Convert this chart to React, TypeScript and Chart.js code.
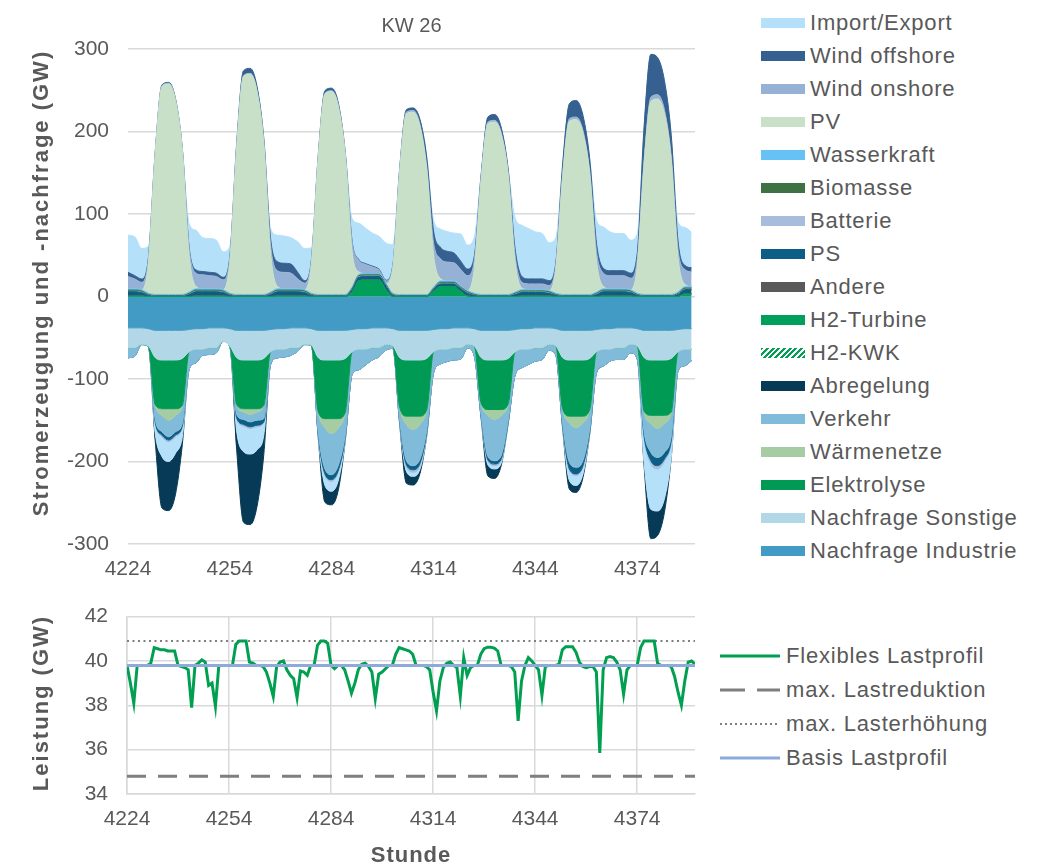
import React, { useEffect, useRef } from "react";
import { Chart, registerables } from "chart.js";
Chart.register(...registerables);

const FONT = '"Liberation Sans", Arial, Helvetica, sans-serif';
const TEXT = "#595959";
const GRID = "#d9d9d9";

const X_MIN = 4224;
const X_MAX = 4391;
const xTicks = [4224, 4254, 4284, 4314, 4344, 4374];
const yTicksTop = [-300, -200, -100, 0, 100, 200, 300];
const yTicksBottom = [34, 36, 38, 40, 42];

// top chart: one sample every 2 hours (h0, h2, ... h22 per day, 7 days)
const topHours = Array.from({ length: 84 }, (_, i) => X_MIN + 2 * i);

// ---- generation (positive stack, from zero upward) ----
const h2Turbine = [
  0.5, 0.5, 0.5, 0, 0, 0, 0, 0, 0, 0, 0.5, 0.5,
  0.5, 0.5, 0.5, 0, 0, 0, 0, 0, 0, 0, 0.5, 0.5,
  0.5, 0.5, 0.5, 0, 0, 0, 0, 0, 0, 5, 19, 20,
  20, 20, 8, 0, 0, 0, 0, 0, 0, 6, 12, 12,
  12, 6, 0.5, 0, 0, 0, 0, 0, 0, 0, 0.5, 0.5,
  0.5, 0.5, 0.5, 0, 0, 0, 0, 0, 0, 0, 0.5, 0.5,
  0.5, 0.5, 0.5, 0, 0, 0, 0, 0, 0, 0, 3, 3,
];
const andere = [
  0.3, 0.3, 0.3, 0.3, 0.2, 0.2, 0.2, 0.2, 0.2, 0.3, 0.3, 0.3,
  0.3, 0.3, 0.3, 0.3, 0.2, 0.2, 0.2, 0.2, 0.2, 0.3, 0.3, 0.3,
  0.3, 0.3, 0.3, 0.3, 0.2, 0.2, 0.2, 0.2, 0.2, 0.3, 0.3, 0.3,
  0.3, 0.3, 0.3, 0.3, 0.2, 0.2, 0.2, 0.2, 0.2, 0.3, 0.3, 0.3,
  0.3, 0.3, 0.3, 0.3, 0.2, 0.2, 0.2, 0.2, 0.2, 0.3, 0.3, 0.3,
  0.3, 0.3, 0.3, 0.3, 0.2, 0.2, 0.2, 0.2, 0.2, 0.3, 0.3, 0.3,
  0.3, 0.3, 0.3, 0.3, 0.2, 0.2, 0.2, 0.2, 0.2, 0.3, 0.3, 0.3,
];
const psGen = [
  5, 5, 4, 1, 0, 0, 0, 0, 0, 2, 5, 5,
  5, 5, 4, 1, 0, 0, 0, 0, 0, 2, 5, 5,
  5, 5, 4, 1, 0, 0, 0, 0, 0, 3, 4, 4,
  4, 4, 4, 1, 0, 0, 0, 0, 0, 2, 3, 3,
  3, 3, 3, 1, 0, 0, 0, 0, 0, 2, 4, 4,
  4, 4, 3, 1, 0, 0, 0, 0, 0, 2, 5, 5,
  5, 5, 4, 1, 0, 0, 0, 0, 0, 2, 5, 5,
];
const batterieGen = [
  0.5, 0.5, 0.5, 0, 0, 0, 0, 0, 0, 0.3, 0.5, 0.5,
  0.5, 0.5, 0.5, 0, 0, 0, 0, 0, 0, 0.3, 0.5, 0.5,
  0.5, 0.5, 0.5, 0, 0, 0, 0, 0, 0, 0.3, 0.5, 0.5,
  0.5, 0.5, 0.5, 0, 0, 0, 0, 0, 0, 0.3, 0.5, 0.5,
  0.5, 0.5, 0.5, 0, 0, 0, 0, 0, 0, 0.3, 0.5, 0.5,
  0.5, 0.5, 0.5, 0, 0, 0, 0, 0, 0, 0.3, 0.5, 0.5,
  0.5, 0.5, 0.5, 0, 0, 0, 0, 0, 0, 0.3, 0.5, 0.5,
];
const biomasse = [
  1.5, 1.5, 1.5, 1.2, 1, 1, 1, 1, 1, 1.3, 1.5, 1.5,
  1.5, 1.5, 1.5, 1.2, 1, 1, 1, 1, 1, 1.3, 1.5, 1.5,
  1.5, 1.5, 1.5, 1.2, 1, 1, 1, 1, 1, 1.3, 1.5, 1.5,
  1.5, 1.5, 1.5, 1.2, 1, 1, 1, 1, 1, 1.3, 1.5, 1.5,
  1.5, 1.5, 1.5, 1.2, 1, 1, 1, 1, 1, 1.3, 1.5, 1.5,
  1.5, 1.5, 1.5, 1.2, 1, 1, 1, 1, 1, 1.3, 1.5, 1.5,
  1.5, 1.5, 1.5, 1.2, 1, 1, 1, 1, 1, 1.3, 1.5, 1.5,
];
const wasserkraft = [
  1.5, 1.5, 1.5, 1.5, 1.3, 1.3, 1.3, 1.3, 1.3, 1.5, 1.5, 1.5,
  1.5, 1.5, 1.5, 1.5, 1.3, 1.3, 1.3, 1.3, 1.3, 1.5, 1.5, 1.5,
  1.5, 1.5, 1.5, 1.5, 1.3, 1.3, 1.3, 1.3, 1.3, 1.5, 1.5, 1.5,
  1.5, 1.5, 1.5, 1.5, 1.3, 1.3, 1.3, 1.3, 1.3, 1.5, 1.5, 1.5,
  1.5, 1.5, 1.5, 1.5, 1.3, 1.3, 1.3, 1.3, 1.3, 1.5, 1.5, 1.5,
  1.5, 1.5, 1.5, 1.5, 1.3, 1.3, 1.3, 1.3, 1.3, 1.5, 1.5, 1.5,
  1.5, 1.5, 1.5, 1.5, 1.3, 1.3, 1.3, 1.3, 1.3, 1.5, 1.5, 1.5,
];
const pv = [
  0, 0, 0, 36, 170, 252, 255, 235, 175, 45, 3, 0,
  0, 0, 0, 38, 178, 264, 267, 246, 183, 47, 3, 0,
  0, 0, 0, 35, 164, 243, 246, 227, 169, 43, 3, 0,
  0, 0, 0, 31, 148, 219, 221, 204, 152, 39, 3, 0,
  0, 0, 0, 30, 139, 207, 209, 193, 144, 37, 2, 0,
  0, 0, 0, 30, 142, 210, 212, 196, 146, 37, 3, 0,
  0, 0, 0, 33, 158, 234, 237, 219, 163, 42, 3, 0,
];
const windOnshore = [
  15, 12, 9, 5, 1, 1, 1, 1, 1, 8, 16, 17,
  16, 15, 12, 5, 1, 1, 1, 1, 1, 10, 19, 20,
  19, 12, 8, 4, 1, 1, 1, 1, 1, 12, 14, 11,
  8, 4, 3, 2, 2, 2, 2, 2, 2, 15, 24, 23,
  22, 20, 18, 10, 2, 2, 2, 2, 2, 8, 7, 7,
  7, 7, 6, 4, 3, 3, 3, 3, 3, 12, 16, 16,
  16, 16, 14, 8, 5, 5, 5, 5, 5, 10, 18, 18,
];
const windOffshore = [
  5, 4, 4, 2, 1, 1, 1, 1, 1, 2, 4, 4,
  4, 4, 3, 2, 4, 6, 6, 5, 5, 8, 11, 11,
  11, 8, 3, 1, 2, 3, 3, 3, 2, 1, 1, 1,
  1, 1, 1, 1, 2, 3, 3, 6, 12, 14, 14, 13,
  12, 10, 8, 5, 4, 6, 7, 6, 5, 8, 7, 6,
  6, 6, 6, 3, 12, 18, 20, 18, 15, 10, 6, 6,
  6, 6, 6, 8, 40, 52, 45, 35, 25, 10, 5, 5,
];
const importGW = [
  45, 47, 37, 14, 0, 0, 0, 0, 0, 28, 48, 41,
  41, 40, 31, 12, 0, 0, 0, 0, 0, 12, 32, 33,
  32, 37, 39, 15, 0, 0, 0, 0, 0, 27, 44, 43,
  40, 40, 45, 25, 0, 0, 0, 0, 0, 13, 22, 24,
  24, 33, 29, 23, 0, 0, 0, 0, 0, 37, 62, 61,
  57, 55, 46, 30, 0, 0, 0, 0, 0, 28, 50, 47,
  45, 45, 40, 23, 0, 0, 0, 0, 0, 23, 46, 43,
];

// ---- demand (negative stack, from zero downward) ----
const nachfrageIndustrie = [
  -38, -38, -38, -39, -41, -41, -41, -41, -41, -40, -39, -39,
  -38, -38, -38, -39, -41, -41, -41, -41, -41, -40, -39, -39,
  -38, -38, -38, -39, -41, -41, -41, -41, -41, -40, -39, -39,
  -38, -38, -38, -39, -41, -41, -41, -41, -41, -40, -39, -39,
  -38, -38, -38, -39, -41, -41, -41, -41, -41, -40, -39, -39,
  -38, -38, -38, -39, -41, -41, -41, -41, -41, -40, -39, -39,
  -38, -38, -38, -39, -41, -41, -41, -41, -41, -40, -39, -39,
];
const nachfrageSonstige = [
  -24, -24, -20, -21, -33, -36, -36, -36, -34, -27, -25, -25,
  -24, -24, -16.3, -21, -33, -36, -36, -36, -34, -27, -25, -25,
  -24, -24, -20, -20, -33, -36, -36, -36, -34, -27, -25, -25,
  -24, -24, -20, -21, -33, -36, -36, -36, -34, -27, -25, -25,
  -24, -24, -20, -21, -33, -36, -36, -36, -34, -27, -25, -25,
  -24, -24, -20, -21, -33, -36, -36, -36, -34, -27, -25, -25,
  -24, -24, -20, -21, -33, -36, -36, -36, -34, -27, -25, -25,
];
const elektrolyse = [
  0, 0, 0, 0, -57, -59, -59, -59, -57, 0, 0, 0,
  0, 0, 0, 0, -57, -59, -59, -59, -57, 0, 0, 0,
  0, 0, 0, 0, -65, -71, -71, -71, -65, 0, 0, 0,
  0, 0, 0, 0, -60, -68, -68, -68, -62, 0, 0, 0,
  0, 0, 0, 0, -55, -60, -60, -60, -55, 0, 0, 0,
  0, 0, 0, 0, -62, -68, -68, -68, -62, 0, 0, 0,
  0, 0, 0, 0, -65, -67, -67, -67, -65, 0, 0, 0,
];
const waermenetze = [
  0, 0, 0, 0, 0, -8, -14, -8, 0, 0, 0, 0,
  0, 0, 0, 0, 0, -4, -7, -4, 0, 0, 0, 0,
  0, 0, 0, 0, 0, -11, -18, -11, 0, 0, 0, 0,
  0, 0, 0, 0, 0, -10, -16, -10, 0, 0, 0, 0,
  0, 0, 0, 0, 0, -7, -12, -7, 0, 0, 0, 0,
  0, 0, 0, 0, 0, -8, -14, -8, 0, 0, 0, 0,
  0, 0, 0, 0, 0, -10, -16, -10, 0, 0, 0, 0,
];
const verkehr = [
  -12.3, -10.3, -0.3, -1, -18, -20, -20, -20, -22, -21.4, -16.3, -7.3,
  -8.3, -6.3, 0, -1, -12, -9, -9, -10, -16, -15.4, -10.3, -9.3,
  -9.3, -4.3, -0.3, 0, -25, -50, -50, -45, -28, -27.4, -24.8, -18.8,
  -14.8, -10.8, -6.8, -3, -16, -44, -44, -42, -25, -25.4, -17.8, -14.8,
  -14.8, -13.8, -4.3, -12, -15, -50, -50, -48, -20, -28.4, -22.3, -18.3,
  -16.3, -14.3, -7.3, -11, -18, -48, -48, -46, -24, -25.4, -20.3, -14.3,
  -14.3, -14.3, -10.3, -16, -25, -35, -35, -35, -30, -23.4, -19.8, -13.8,
];
const psPump = [
  0, 0, 0, 0, -3, -4, -4, -4, -3, 0, 0, 0,
  0, 0, 0, 0, -4, -6, -6, -6, -4, 0, 0, 0,
  0, 0, 0, 0, -3, -6, -6, -6, -3, 0, 0, 0,
  0, 0, 0, 0, -2, -5, -5, -5, -3, 0, 0, 0,
  0, 0, 0, 0, -2, -4, -4, -4, -2, 0, 0, 0,
  0, 0, 0, 0, -3, -8, -8, -6, -3, 0, 0, 0,
  0, 0, 0, 0, -5, -10, -10, -8, -5, 0, 0, 0,
];
const batterieLaden = [
  0, 0, 0, 0, -1, -2, -2, -2, -1, 0, 0, 0,
  0, 0, 0, 0, -1, -2, -2, -2, -1, 0, 0, 0,
  0, 0, 0, 0, -1, -2, -2, -2, -1, 0, 0, 0,
  0, 0, 0, 0, -1, -3, -3, -3, -1, 0, 0, 0,
  0, 0, 0, 0, -1, -2, -2, -2, -1, 0, 0, 0,
  0, 0, 0, 0, -1, -2, -2, -2, -1, 0, 0, 0,
  0, 0, 0, 0, -2, -4, -4, -3, -2, 0, 0, 0,
];
const exportGW = [
  0, 0, 0, 0, -12, -24, -24, -20, -12, 0, 0, 0,
  0, 0, 0, 0, -15, -31, -31, -28, -15, 0, 0, 0,
  0, 0, 0, 0, -1.5, -12, -12, -10, -2, 0, 0, 0,
  0, 0, 0, 0, -1, -5, -5, -4, -2, 0, 0, 0,
  0, 0, 0, 0, 0, -4, -4, -3, 0, 0, 0, 0,
  0, 0, 0, 0, -1, -12, -12, -8, -1, 0, 0, 0,
  0, 0, 0, 0, -30, -55, -51, -45, -18, 0, 0, 0,
];
const abregelung = [
  0, 0, 0, 0, -9.5, -62.5, -59.5, -49.5, -9.5, 0, 0, 0,
  0, 0, 0, 0, -22.5, -85.5, -85.5, -68.5, -23.5, 0, 0, 0,
  0, 0, 0, 0, 0, -20.5, -16.5, -11.5, -0.5, 0, 0, 0,
  0, 0, 0, 0, -0.5, -14.5, -10.5, -5.5, -0.5, 0, 0, 0,
  0, 0, 0, 0, -0.5, -13.5, -11.5, -2.5, -0.5, 0, 0, 0,
  0, 0, 0, 0, -0.5, -10.5, -8.5, -4.5, -0.5, 0, 0, 0,
  0, 0, 0, 0, -4.5, -35.5, -29.5, -16.5, -0.5, 0, 0, 0,
];

// ---- bottom chart: hourly flexible load profile ----
const flexHours = Array.from({ length: 168 }, (_, i) => X_MIN + i);
const flexiblesLastprofil = [
  39.8, 39.0, 38.1, 39.8, 39.8, 39.8, 39.8, 39.9, 40.6, 40.55, 40.5, 40.5,
  40.45, 40.45, 40.45, 39.8, 39.75, 39.7, 39.6, 37.9, 39.8, 39.9, 40.05, 39.95,
  38.9, 39.0, 37.95, 39.8, 39.8, 39.8, 39.8, 39.8, 40.75, 40.9, 40.9, 40.9,
  39.95, 39.9, 39.8, 39.8, 39.75, 39.5, 39.0, 38.4, 39.75, 39.95, 40.0, 39.6,
  39.35, 39.2, 38.35, 39.55, 39.5, 39.35, 39.8, 39.8, 40.7, 40.9, 40.9, 40.8,
  39.8, 39.65, 39.8, 39.8, 39.6, 39.1, 38.55, 39.0, 39.6, 39.85, 39.9, 39.75,
  39.5, 38.3, 39.4, 39.5, 39.65, 39.8, 39.8, 40.3, 40.6, 40.55, 40.5, 40.45,
  40.3, 39.8, 39.8, 39.8, 39.75, 39.6, 38.6, 37.75, 39.1, 39.7, 39.9, 39.95,
  39.8, 39.7, 38.4, 40.15, 39.35, 39.7, 39.8, 39.8, 40.3, 40.55, 40.62, 40.62,
  40.58, 40.45, 39.8, 39.8, 39.8, 39.75, 39.5, 37.3, 39.1, 39.8, 40.15, 40.0,
  39.8, 39.6, 38.45, 39.75, 39.8, 39.8, 39.8, 39.85, 40.5, 40.64, 40.64, 40.64,
  40.4, 39.95, 39.75, 39.7, 39.75, 39.75, 39.5, 35.85, 39.6, 40.15, 40.2, 40.15,
  39.95, 39.6, 38.5, 39.6, 39.8, 39.8, 39.8, 40.6, 40.9, 40.9, 40.9, 40.9,
  39.9, 39.8, 39.8, 39.8, 39.75, 39.3, 38.6, 38.0, 39.1, 39.95, 40.0, 39.85,
];
const refHours = [4224, 4391];
const maxLastreduktion = [34.8, 34.8];
const maxLasterhoehung = [40.9, 40.9];
const basisLastprofil = [39.8, 39.8];

const COL = {
  import: "#b5e0fa",
  windOff: "#35608f",
  windOn: "#95b2d6",
  pv: "#c8e0c7",
  wasserkraft: "#66c1f5",
  biomasse: "#3f7243",
  batterie: "#a8bcdb",
  ps: "#0d5e86",
  andere: "#595959",
  h2Turbine: "#00a05a",
  abregelung: "#063a56",
  verkehr: "#80bcd9",
  waerme: "#a6cca1",
  elektrolyse: "#009a55",
  sonstige: "#b2d7e7",
  industrie: "#419bc5",
};

const topLegend = [
  { label: "Import/Export", color: COL.import },
  { label: "Wind offshore", color: COL.windOff },
  { label: "Wind onshore", color: COL.windOn },
  { label: "PV", color: COL.pv },
  { label: "Wasserkraft", color: COL.wasserkraft },
  { label: "Biomasse", color: COL.biomasse },
  { label: "Batterie", color: COL.batterie },
  { label: "PS", color: COL.ps },
  { label: "Andere", color: COL.andere },
  { label: "H2-Turbine", color: COL.h2Turbine },
  { label: "H2-KWK", color: "hatch" },
  { label: "Abregelung", color: COL.abregelung },
  { label: "Verkehr", color: COL.verkehr },
  { label: "Wärmenetze", color: COL.waerme },
  { label: "Elektrolyse", color: COL.elektrolyse },
  { label: "Nachfrage Sonstige", color: COL.sonstige },
  { label: "Nachfrage Industrie", color: COL.industrie },
];

const LINE = { flex: "#00a050", ref: "#7f7f7f", basis: "#8eaadb" };
const bottomLegend = [
  { label: "Flexibles Lastprofil", color: LINE.flex, dash: "", width: 3 },
  { label: "max. Lastreduktion", color: LINE.ref, dash: "25 12", width: 3 },
  { label: "max. Lasterhöhung", color: LINE.ref, dash: "2 3", width: 2 },
  { label: "Basis Lastprofil", color: LINE.basis, dash: "", width: 3 },
];

function area(label: string, ys: number[], color: string, stack: string, fill: any) {
  return {
    label,
    data: ys.map((y, i) => ({ x: topHours[i], y })),
    backgroundColor: color,
    borderColor: color,
    borderWidth: 1,
    fill,
    stack,
    pointRadius: 0,
    pointHoverRadius: 0,
    cubicInterpolationMode: "monotone",
  };
}

function refLine(label: string, ys: number[], color: string, width: number, dash: number[]) {
  return {
    label,
    data: ys.map((y, i) => ({ x: refHours[i], y })),
    borderColor: color,
    borderWidth: width,
    borderDash: dash,
    pointRadius: 0,
    fill: false,
  };
}

const tickFont = { family: FONT, size: 21 };

export default function App() {
  const topRef = useRef<HTMLCanvasElement>(null);
  const botRef = useRef<HTMLCanvasElement>(null);

  useEffect(() => {
    const pos: [string, number[], string][] = [
      ["H2-Turbine", h2Turbine, COL.h2Turbine],
      ["Andere", andere, COL.andere],
      ["PS", psGen, COL.ps],
      ["Batterie", batterieGen, COL.batterie],
      ["Biomasse", biomasse, COL.biomasse],
      ["Wasserkraft", wasserkraft, COL.wasserkraft],
      ["PV", pv, COL.pv],
      ["Wind onshore", windOnshore, COL.windOn],
      ["Wind offshore", windOffshore, COL.windOff],
      ["Import/Export", importGW, COL.import],
    ];
    const neg: [string, number[], string][] = [
      ["Nachfrage Industrie", nachfrageIndustrie, COL.industrie],
      ["Nachfrage Sonstige", nachfrageSonstige, COL.sonstige],
      ["Elektrolyse", elektrolyse, COL.elektrolyse],
      ["Wärmenetze", waermenetze, COL.waerme],
      ["Verkehr", verkehr, COL.verkehr],
      ["PS (Pumpen)", psPump, COL.ps],
      ["Batterie (Laden)", batterieLaden, COL.batterie],
      ["Export", exportGW, COL.import],
      ["Abregelung", abregelung, COL.abregelung],
    ];
    const datasets = [
      ...pos.map(([l, d, c], i) => area(l, d, c, "pos", i === 0 ? "origin" : "-1")),
      ...neg.map(([l, d, c], i) => area(l, d, c, "neg", i === 0 ? "origin" : "-1")),
    ];

    const top = new Chart(topRef.current as HTMLCanvasElement, {
      type: "line",
      data: { datasets: datasets as any },
      options: {
        responsive: false,
        animation: false,
        events: [],
        layout: { padding: { top: 14, right: 5, left: 0, bottom: 0 } },
        plugins: {
          legend: { display: false },
          tooltip: { enabled: false },
          title: {
            display: true,
            text: "KW 26",
            color: TEXT,
            fullSize: false,
            font: { family: FONT, size: 20, weight: "normal" },
            padding: { top: 0, bottom: 11 },
          },
        },
        scales: {
          x: {
            type: "linear",
            min: X_MIN,
            max: X_MAX,
            afterBuildTicks: (axis: any) => {
              axis.ticks = xTicks.map((v) => ({ value: v }));
            },
            afterFit: (scale: any) => {
              scale.height = 46;
            },
            grid: { display: false, drawTicks: false },
            border: { display: false },
            ticks: {
              autoSkip: false,
              maxRotation: 0,
              color: TEXT,
              font: tickFont,
              padding: 13,
              callback: (v: any) => String(v),
            },
          },
          y: {
            stacked: true,
            min: -300,
            max: 300,
            afterBuildTicks: (axis: any) => {
              axis.ticks = yTicksTop.map((v) => ({ value: v }));
            },
            afterFit: (scale: any) => {
              scale.width = 128;
            },
            grid: { color: GRID, lineWidth: 1.5, drawTicks: false },
            border: { display: false },
            ticks: { color: TEXT, font: tickFont, padding: 19, callback: (v: any) => String(v) },
          },
        },
      } as any,
    });

    const bot = new Chart(botRef.current as HTMLCanvasElement, {
      type: "line",
      data: {
        datasets: [
          refLine("Basis Lastprofil", basisLastprofil, LINE.basis, 3, []),
          {
            label: "Flexibles Lastprofil",
            data: flexiblesLastprofil.map((y, i) => ({ x: flexHours[i], y })),
            borderColor: LINE.flex,
            borderWidth: 3,
            pointRadius: 0,
            fill: false,
            tension: 0,
          },
          refLine("max. Lasterhöhung", maxLasterhoehung, LINE.ref, 2, [2, 3.5]),
          refLine("max. Lastreduktion", maxLastreduktion, LINE.ref, 3, [19, 12]),
        ] as any,
      },
      options: {
        responsive: false,
        animation: false,
        events: [],
        layout: { padding: { top: 27, right: 5, left: 0, bottom: 0 } },
        plugins: { legend: { display: false }, tooltip: { enabled: false } },
        scales: {
          x: {
            type: "linear",
            min: X_MIN,
            max: X_MAX,
            afterBuildTicks: (axis: any) => {
              axis.ticks = xTicks.map((v) => ({ value: v }));
            },
            afterFit: (scale: any) => {
              scale.height = 72;
            },
            grid: { color: GRID, lineWidth: 1.5, drawTicks: false },
            border: { display: true, color: GRID, width: 1.5 },
            ticks: {
              autoSkip: false,
              maxRotation: 0,
              color: TEXT,
              font: tickFont,
              padding: 13,
              callback: (v: any) => String(v),
            },
          },
          y: {
            min: 34,
            max: 42,
            afterBuildTicks: (axis: any) => {
              axis.ticks = yTicksBottom.map((v) => ({ value: v }));
            },
            afterFit: (scale: any) => {
              scale.width = 127;
            },
            grid: { color: GRID, lineWidth: 1.5, drawTicks: false },
            border: { display: true, color: GRID, width: 1.5 },
            ticks: { color: TEXT, font: tickFont, padding: 19, callback: (v: any) => String(v) },
          },
        },
      } as any,
    });

    return () => {
      top.destroy();
      bot.destroy();
    };
  }, []);

  const hatch =
    "repeating-linear-gradient(135deg, #00a050 0px, #00a050 2px, #ffffff 2px, #ffffff 4px)";

  const axisTitle = (text: string, cx: number, cy: number, rotate: boolean) => (
    <div
      style={{
        position: "absolute",
        left: cx,
        top: cy,
        transform: rotate ? "translate(-50%, -50%) rotate(-90deg)" : "translate(-50%, -50%)",
        whiteSpace: "nowrap",
        fontWeight: "bold",
        fontSize: 22,
        lineHeight: "26px",
        letterSpacing: rotate ? "2px" : "1px",
        color: TEXT,
      }}
    >
      {text}
    </div>
  );

  return (
    <div
      style={{
        position: "absolute",
        left: 0,
        top: 0,
        width: 1048,
        height: 866,
        background: "#ffffff",
        fontFamily: FONT,
        overflow: "hidden",
      }}
    >
      <canvas
        ref={topRef}
        width={700}
        height={590}
        style={{ position: "absolute", left: 0, top: 0, width: 700, height: 590 }}
      />
      <canvas
        ref={botRef}
        width={700}
        height={281}
        style={{ position: "absolute", left: 0, top: 585, width: 700, height: 281 }}
      />
      {axisTitle("Stromerzeugung und -nachfrage (GW)", 41, 283, true)}
      {axisTitle("Leistung (GW)", 41, 703, true)}
      {axisTitle("Stunde", 411, 855, false)}
      {topLegend.map((item, i) => {
        const cy = 23 + 33 * i;
        return (
          <React.Fragment key={item.label}>
            <div
              style={{
                position: "absolute",
                left: 761,
                top: cy - 5,
                width: 44,
                height: 10,
                background: item.color === "hatch" ? hatch : item.color,
              }}
            />
            <div
              style={{
                position: "absolute",
                left: 810,
                top: cy - 13,
                height: 26,
                lineHeight: "26px",
                fontSize: 22,
                letterSpacing: "0.8px",
                color: TEXT,
                whiteSpace: "nowrap",
              }}
            >
              {item.label}
            </div>
          </React.Fragment>
        );
      })}
      {bottomLegend.map((item, i) => {
        const cy = 656 + 34 * i;
        return (
          <React.Fragment key={item.label}>
            <svg
              width={60}
              height={10}
              style={{ position: "absolute", left: 720, top: cy - 5 }}
            >
              <line
                x1={0}
                y1={5}
                x2={60}
                y2={5}
                stroke={item.color}
                strokeWidth={item.width}
                strokeDasharray={item.dash || undefined}
              />
            </svg>
            <div
              style={{
                position: "absolute",
                left: 786,
                top: cy - 13,
                height: 26,
                lineHeight: "26px",
                fontSize: 22,
                letterSpacing: "0.8px",
                color: TEXT,
                whiteSpace: "nowrap",
              }}
            >
              {item.label}
            </div>
          </React.Fragment>
        );
      })}
    </div>
  );
}
